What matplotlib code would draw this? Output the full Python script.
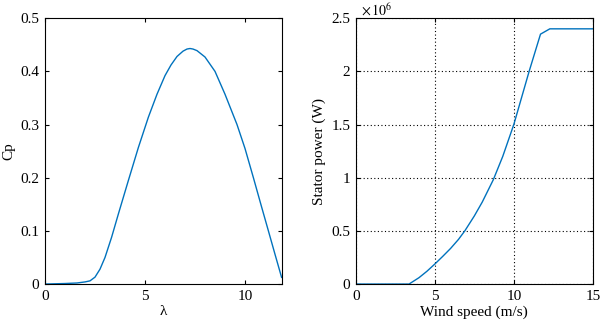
import matplotlib
matplotlib.use("Agg")
import matplotlib.pyplot as plt
from matplotlib.ticker import FuncFormatter

# Dati: curva Cp(lambda)
lam = [0, 1.0, 1.6, 2.0, 2.25, 2.5, 2.75, 3.0, 3.33, 3.67, 4.17, 4.67, 5.17,
       5.6, 6.0, 6.3, 6.6, 6.9, 7.1, 7.25, 7.4, 7.6, 8.0, 8.5, 9.0, 9.6, 10.0,
       10.42, 10.8, 11.17, 11.5, 11.83]
cp = [0, 0.001, 0.002, 0.004, 0.006, 0.013, 0.028, 0.05, 0.088, 0.132, 0.195,
      0.257, 0.314, 0.357, 0.392, 0.412, 0.428, 0.438, 0.442, 0.443, 0.442,
      0.439, 0.427, 0.4, 0.357, 0.3, 0.255, 0.2, 0.149, 0.1, 0.056, 0.0125]

# Dati: potenza statore vs velocita del vento (x 10^6 W)
vento = [0, 3.37, 4, 4.5, 5, 5.5, 6, 6.5, 6.9, 7.5, 8, 8.7, 9.3, 10, 10.97,
         11.69, 12.28, 15]
potenza = [0, 0, 0.06, 0.12, 0.188, 0.26, 0.335, 0.42, 0.5, 0.64, 0.77, 0.98,
           1.2, 1.5, 2.0, 2.35, 2.4, 2.4]

plt.rcParams["font.family"] = ["Liberation Serif", "DejaVu Serif"]
plt.rcParams["mathtext.fontset"] = "stix"
plt.rcParams["font.size"] = 11
colore = "#0072BD"
fmt = FuncFormatter(lambda v, p: "%g" % v)

fig = plt.figure(figsize=(6, 3.25), dpi=100)
ax1 = fig.add_axes([0.075, 0.126, 0.395, 0.818])
ax2 = fig.add_axes([0.593, 0.126, 0.395, 0.818])

# 1) Cp
ax1.plot(lam, cp, color=colore, linewidth=1)
ax1.set_xlim(0, 11.85)
ax1.set_ylim(0, 0.5)
ax1.set_xticks([0, 5, 10])
ax1.set_yticks([0, 0.1, 0.2, 0.3, 0.4, 0.5])
ax1.yaxis.set_major_formatter(fmt)
ax1.set_xlabel("λ")
ax1.set_ylabel("Cp")

# 2) Potenza statore
ax2.plot(vento, potenza, color=colore, linewidth=1)
ax2.set_xlim(0, 15)
ax2.set_ylim(0, 2.5)
ax2.set_xticks([0, 5, 10, 15])
ax2.set_yticks([0, 0.5, 1, 1.5, 2, 2.5])
ax2.yaxis.set_major_formatter(fmt)
ax2.grid(True, color="black", linestyle=(0, (1, 2.2)), linewidth=0.8)
ax2.set_xlabel("Wind speed (m/s)")
ax2.set_ylabel("Stator power (W)")
ax2.text(0.02, 1.0, r"$\times\,10^{6}$", transform=ax2.transAxes,
         ha="left", va="bottom", fontsize=10)

for ax in (ax1, ax2):
    ax.tick_params(direction="in", top=True, right=True, length=3, pad=4)
    ax.xaxis.labelpad = 2
    for s in ax.spines.values():
        s.set_linewidth(0.8)

fig.savefig("out.png", dpi=100)
